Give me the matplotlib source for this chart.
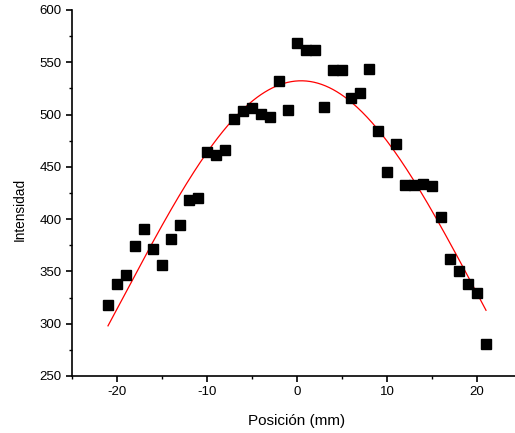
import numpy as np
import matplotlib
matplotlib.use('Agg')
import matplotlib.pyplot as plt
from matplotlib.ticker import MultipleLocator

plt.rcParams['font.family'] = ['Liberation Sans', 'DejaVu Sans']
plt.rcParams['axes.unicode_minus'] = False

# datos medidos
posicion = np.arange(-21, 22)
intensidad = [318, 338, 347, 374, 391, 371, 356, 381, 394, 418, 420,
              464, 461, 466, 496, 503, 506, 501, 498, 532, 504,
              568, 562, 562, 507, 543, 543, 516, 521, 544, 484,
              445, 472, 433, 433, 434, 432, 402, 362, 350, 338, 329, 281]

# ajuste gaussiano (polinomio de grado 2 sobre el log, pesado)
y = np.array(intensidad, dtype=float)
c = np.polyfit(posicion, np.log(y), 2, w=np.sqrt(y))
xf = np.linspace(-21, 21, 300)
yf = np.exp(np.polyval(c, xf))

fig = plt.figure(figsize=(5.15, 4.33), dpi=100)
ax = fig.add_axes([72/515, 1-376/433, 450/515, 366/433])

ax.plot(xf, yf, color='red', lw=0.9)
ax.plot(posicion, intensidad, 's', color='black', ms=6.5, mec='black')

ax.set_xlim(-25, 25)
ax.set_ylim(250, 600)
ax.xaxis.set_major_locator(MultipleLocator(10))
ax.xaxis.set_minor_locator(MultipleLocator(5))
ax.yaxis.set_major_locator(MultipleLocator(50))
ax.yaxis.set_minor_locator(MultipleLocator(25))

for s in ['top', 'right']:
    ax.spines[s].set_visible(False)
for s in ['left', 'bottom']:
    ax.spines[s].set_linewidth(1.2)

ax.tick_params(which='major', direction='out', length=4.5, width=1.2, labelsize=9.5, pad=3)
ax.tick_params(which='minor', direction='out', length=2.5, width=1.0)

ax.set_xlabel('Posición (mm)', fontsize=11, labelpad=11)
ax.set_ylabel('Intensidad', fontsize=9.8)
ax.yaxis.set_label_coords(-0.101, 0.456)

fig.savefig('out.png', dpi=100)
